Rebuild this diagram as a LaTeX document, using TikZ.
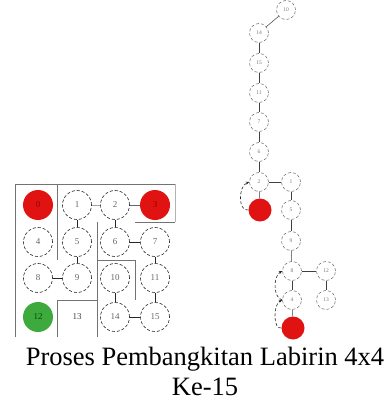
\documentclass[tikz,border=0pt]{standalone}
\usepackage{fontspec}
\setmainfont{Liberation Serif}
\usetikzlibrary{arrows.meta}
\definecolor{myred}{RGB}{224,18,18}
\definecolor{mygreen}{RGB}{62,170,62}
\begin{document}
\begin{tikzpicture}[x=1pt,y=-1pt,
  gc/.style={circle,draw=black!85,densely dashed,line width=0.6pt,minimum size=29pt,inner sep=0pt,font=\fontsize{9}{9}\selectfont,text=black!60},
  tc/.style={circle,draw=black!70,densely dashed,line width=0.45pt,minimum size=19pt,inner sep=0pt,font=\fontsize{5.5}{6}\selectfont,text=black!55},
  redg/.style={circle,fill=myred,minimum size=30pt,inner sep=0pt,font=\fontsize{9}{9}\selectfont,text=red!60!black},
  greeng/.style={circle,fill=mygreen,minimum size=30pt,inner sep=0pt,font=\fontsize{9}{9}\selectfont,text=green!30!black},
  redt/.style={circle,fill=myred,minimum size=23pt,inner sep=0pt},
  wall/.style={draw=black!55,line width=0.8pt},
  gedge/.style={draw=black!85,line width=0.6pt},
  tedge/.style={draw=black!75,line width=0.5pt},
  back/.style={densely dashed,draw=black!85,-{Stealth[length=3.5pt,width=3pt]},line width=0.6pt},
  captxt/.style={font=\fontsize{26.5}{30}\selectfont,anchor=base}]
\useasboundingbox (0,0) rectangle (390,401);
% ---------- maze grid ----------
\draw[wall] (15,337) -- (15,184) -- (175,184);
\draw[wall,black!30] (175,184) -- (175,222);
\draw[wall] (57,184) -- (57,260);
\draw[wall] (97,222) -- (97,337);
\draw[wall] (135,222) -- (175,222);
\draw[wall] (97,260) -- (135,260) -- (135,300);
\draw[wall] (57,337) -- (57,300) -- (97,300);
\node[redg] (g0) at (38,205) {0};
\node[gc] (g1) at (77,205) {1};
\node[gc] (g2) at (115,205) {2};
\node[redg] (g3) at (155,205) {3};
\node[gc] (g4) at (38,242) {4};
\node[gc] (g5) at (77,242) {5};
\node[gc] (g6) at (115,242) {6};
\node[gc] (g7) at (155,242) {7};
\node[gc] (g8) at (38,278) {8};
\node[gc] (g9) at (77,278) {9};
\node[gc] (g10) at (115,278) {10};
\node[gc] (g11) at (155,278) {11};
\node[greeng] (g12) at (38,317) {12};
\node[font=\fontsize{9}{9}\selectfont,text=black!75] (g13) at (77,317) {13};
\node[gc] (g14) at (115,317) {14};
\node[gc] (g15) at (155,317) {15};
\draw[gedge,black!35] (g1) -- (g2);
\draw[gedge,black!60] (g2) -- (g3);
\draw[gedge] (g1) -- (g5);
\draw[gedge] (g2) -- (g6);
\draw[gedge] (g6) -- (g7);
\draw[gedge] (g5) -- (g9);
\draw[gedge] (g8) -- (g9);
\draw[gedge] (g7) -- (g11);
\draw[gedge] (g10) -- (g14);
\draw[gedge] (g11) -- (g15);
\draw[gedge] (g14) -- (g15);
% ---------- generation tree ----------
\node[tc] (t10) at (286,10) {10};
\node[tc] (t14) at (259,33) {14};
\node[tc] (t15) at (259,63) {15};
\node[tc] (t11) at (259,93) {11};
\node[tc] (t7) at (259,122) {7};
\node[tc] (t6) at (259,152) {6};
\node[tc] (t2) at (259,182) {2};
\node[tc] (t1) at (291,182) {1};
\node[redt] (r3) at (260,210) {};
\node[tc] (t5) at (291,210) {5};
\node[tc] (t9) at (291,241) {9};
\node[tc] (t8) at (292,271) {8};
\node[tc] (t12) at (326,271) {12};
\node[tc] (t4) at (292,300) {4};
\node[tc] (t13) at (326,300) {13};
\node[redt] (r0) at (293,328) {};
\draw[tedge] (t10) -- (t14);
\draw[tedge] (t14) -- (t15);
\draw[tedge] (t15) -- (t11);
\draw[tedge] (t11) -- (t7);
\draw[tedge] (t7) -- (t6);
\draw[tedge] (t6) -- (t2);
\draw[tedge] (t2) -- (t1);
\draw[tedge] (t2) -- (r3);
\draw[tedge] (t1) -- (t5);
\draw[tedge] (t5) -- (t9);
\draw[tedge] (t9) -- (t8);
\draw[tedge] (t8) -- (t12);
\draw[tedge] (t8) -- (t4);
\draw[tedge] (t12) -- (t13);
\draw[tedge] (t4) -- (r0);
\draw[back] (r3.west) .. controls (238,212) and (238,186) .. (t2.west);
\draw[back] (r0.west) .. controls (273,330) and (273,304) .. (t4.west);
\draw[back] (t4.west) .. controls (273,298) and (273,276) .. (t8.west);
% ---------- caption ----------
\node[captxt] (c1) at (205,365) {Proses Pembangkitan Labirin 4x4};
\node[captxt] (c2) at (205,395) {Ke-15};
\end{tikzpicture}
\end{document}
